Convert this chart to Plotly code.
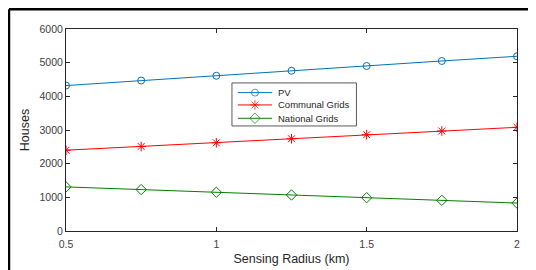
import plotly.graph_objects as go

radius = [0.5, 0.75, 1.0, 1.25, 1.5, 1.75, 2.0]
pv = [4320, 4470, 4610, 4760, 4900, 5050, 5190]
communal = [2400, 2510, 2620, 2740, 2860, 2970, 3080]
national = [1310, 1230, 1150, 1070, 990, 910, 830]

series_names = ["PV", "Communal Grids", "National Grids"]
colors = ["#0072BD", "#FF0000", "#008000"]
symbols = ["circle-open", "asterisk-open", "diamond-open"]
msizes = [7, 8, 8]

x_ticks = [0.5, 1, 1.5, 2]
x_ticktext = ["0.5", "1", "1.5", "2"]
y_ticks = [0, 1000, 2000, 3000, 4000, 5000, 6000]

FONT = "Liberation Sans, Arial"

fig = go.Figure()
for name, vals, c, s, ms in zip(series_names, [pv, communal, national], colors, symbols, msizes):
    fig.add_trace(go.Scatter(x=radius, y=vals, name=name, mode="lines+markers",
                             line=dict(color=c, width=1),
                             marker=dict(symbol=s, size=ms, color=c, line=dict(width=1, color=c)),
                             showlegend=False))

# custom compact legend (MATLAB style) on an overlay paper-like axis
leg_rows = [0.685, 0.624, 0.558]
shapes = [dict(type="rect", xref="paper", yref="paper", x0=0.368, x1=0.644, y0=0.520, y1=0.733,
               fillcolor="white", line=dict(color="#5a5a5a", width=1), layer="below")]
annotations = []
for name, c, s, ms, yr in zip(series_names, colors, symbols, msizes, leg_rows):
    fig.add_trace(go.Scatter(x=[0.381, 0.419, 0.457], y=[yr, yr, yr], xaxis="x2", yaxis="y2",
                             mode="lines+markers", line=dict(color=c, width=1),
                             marker=dict(symbol=s, size=[0, ms, 0], color=c, line=dict(width=1, color=c)),
                             showlegend=False, hoverinfo="skip"))
    annotations.append(dict(x=0.466, y=yr, xref="paper", yref="paper", text=name, showarrow=False,
                            xanchor="left", yanchor="middle",
                            font=dict(family=FONT, size=9.5, color="#262626")))

axis_common = dict(showgrid=False, zeroline=False, showline=True, linecolor="#262626", linewidth=1,
                   mirror="ticks", ticks="inside", ticklen=4, tickcolor="#262626", automargin=False,
                   tickfont=dict(family=FONT, size=10.5, color="#404040"))

fig.update_layout(
    xaxis=dict(range=[0.5, 2], tickvals=x_ticks, ticktext=x_ticktext, ticklabelstandoff=3,
               title=dict(text="Sensing Radius (km)", font=dict(family=FONT, size=12.5, color="#262626"), standoff=5),
               **axis_common),
    yaxis=dict(range=[0, 6000], tickvals=y_ticks,
               title=dict(text="Houses", font=dict(family=FONT, size=12.5, color="#262626"), standoff=7),
               **axis_common),
    xaxis2=dict(overlaying="x", range=[0, 1], visible=False, fixedrange=True),
    yaxis2=dict(overlaying="y", range=[0, 1], visible=False, fixedrange=True),
)

shapes += [
    dict(type="line", xref="paper", yref="paper", x0=-0.1264, x1=1.1, y0=1.098, y1=1.098,
         line=dict(color="black", width=2.5), layer="above"),
    dict(type="line", xref="paper", yref="paper", x0=-0.1264, x1=-0.1264, y0=1.098, y1=-0.3,
         line=dict(color="black", width=2.5), layer="above"),
]

fig.update_layout(
    width=528, height=262,
    margin=dict(l=58, r=19, t=21, b=39, autoexpand=False),
    plot_bgcolor="white", paper_bgcolor="white",
    showlegend=False,
    shapes=shapes,
    annotations=annotations,
)

fig.write_html("out.html")
